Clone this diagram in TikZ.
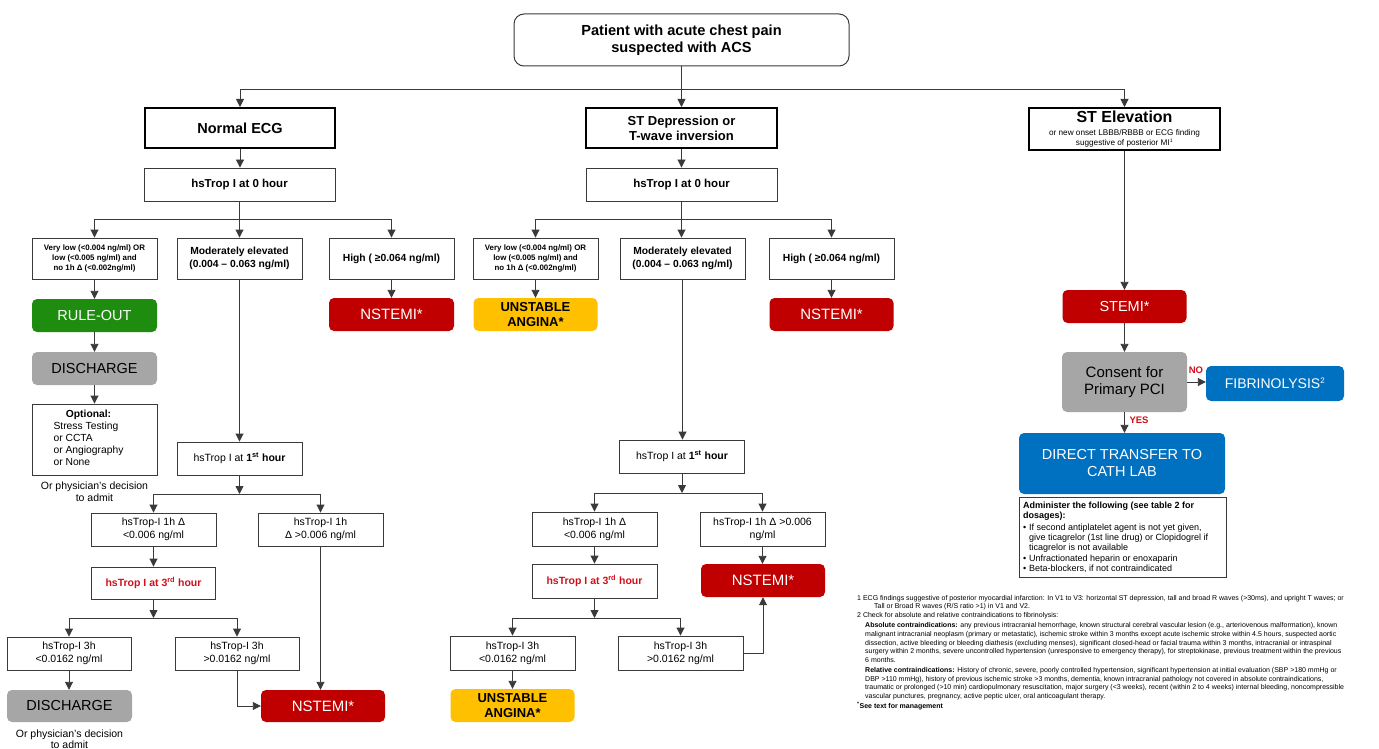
\documentclass[tikz,border=0pt]{standalone}
\usepackage{fontspec}
\setmainfont{Liberation Sans}
\usetikzlibrary{arrows.meta}
\definecolor{gline}{HTML}{3A3A3A}
\definecolor{cgreen}{HTML}{1E8C0E}
\definecolor{cred}{HTML}{C00000}
\definecolor{cgray}{HTML}{A6A6A6}
\definecolor{cyel}{HTML}{FFC000}
\definecolor{cblue}{HTML}{0070C0}
\definecolor{tred}{HTML}{D0101A}
\newcommand\fsz[2]{\fontsize{#1}{#2}\selectfont}
\tikzset{
  wh/.style 2 args={minimum width=#1pt, minimum height=#2pt},
  box/.style={draw=gline, line width=0.9pt, fill=white, inner sep=0pt, align=center, text=black},
  heavy/.style={draw=black, line width=2pt, fill=white, inner sep=0pt, align=center},
  topbox/.style={draw=gline, line width=1pt, rounded corners=10pt, inner sep=0pt, align=center},
  cbox/.style={rounded corners=5pt, inner sep=0pt, align=center},
  grn/.style={cbox, fill=cgreen, text=white, font=\fsz{14.5}{16}},
  rd/.style={cbox, fill=cred, text=white, font=\fsz{15}{17}},
  gry/.style={cbox, fill=cgray, text=black},
  yel/.style={cbox, fill=cyel, text=black, font=\fsz{13}{15}\bfseries},
  blu/.style={cbox, fill=cblue, text=white},
  arr/.style={-{Triangle[length=8pt,width=8pt]}, line width=0.9pt, draw=gline},
  ln/.style={line width=0.9pt, draw=gline},
  lbl/.style={text=tred, font=\fsz{9.5}{11}\bfseries, inner sep=0pt},
  plain/.style={inner sep=0pt, align=center, font=\fsz{10.5}{11.5}},
  tiny/.style={font=\fsz{7.9}{10}\bfseries},
  medb/.style={font=\fsz{10.3}{13}\bfseries},
  med/.style={font=\fsz{10.5}{13}},
  redb/.style={font=\fsz{10.5}{12}\bfseries, text=tred},
}
\begin{document}
\begin{tikzpicture}[x=1pt,y=-1pt]
\useasboundingbox (0,0) rectangle (1379,749);
\fill[white] (0,0) rectangle (1379,749);

% ---------- top ----------
\node[topbox, wh={335}{52}, font=\fsz{14.6}{17}\bfseries] (top) at (681.5,40) {Patient with acute chest pain\\suspected with ACS};
\node[heavy, wh={190}{40}, font=\fsz{14.5}{17}\bfseries] (ecgN) at (240,128) {Normal ECG};
\node[heavy, wh={191}{40}, font=\fsz{13}{15}\bfseries] (ecgD) at (681.5,128) {ST Depression or\\T-wave inversion};
\node[heavy, wh={191}{42}, font=\fsz{8.2}{10}] (ecgE) at (1124.5,129) {{\fsz{16}{16}\bfseries ST Elevation}\\[2.5pt]or new onset LBBB/RBBB or ECG finding\\suggestive of posterior MI\textsuperscript{\fsz{5}{5}1}};

\coordinate (j0) at (681.5,89);
\draw[ln] (top.south) -- (j0);
\draw[arr] (j0) -| (ecgN.north);
\draw[arr] (j0) -| (ecgE.north);
\draw[arr] (j0) -- (ecgD.north);

% ---------- left column ----------
\node[box, wh={191}{33}, font=\fsz{11.5}{13}\bfseries] (t0L) at (239.5,184.5) {hsTrop I at 0 hour};
\draw[arr] (ecgN.south) -- (ecgN.south |- t0L.north);

\node[box, tiny, wh={125}{41}] (vlL) at (94.5,258.5) {Very low (<0.004 ng/ml) OR\\low (<0.005 ng/ml) and\\no 1h Δ (<0.002ng/ml)};
\node[box, medb, wh={125}{41}] (modL) at (239.5,258.5) {Moderately elevated\\(0.004 – 0.063 ng/ml)};
\node[box, medb, wh={125}{41}] (hiL) at (391.5,258.5) {High ( ≥0.064 ng/ml)};
\coordinate (jL0) at (239.5,219);
\draw[ln] (t0L.south) -- (jL0);
\draw[arr] (jL0) -| (vlL.north);
\draw[arr] (jL0) -| (hiL.north);
\draw[arr] (jL0) -- (modL.north);

\node[grn, wh={125}{33}] (ruleout) at (94.5,315.5) {RULE-OUT};
\node[rd, wh={125}{33}] (nstL1) at (391.5,314.5) {NSTEMI*};
\draw[arr] (vlL.south) -- (ruleout.north);
\draw[arr] (hiL.south) -- (nstL1.north);

\node[gry, wh={125}{33}, font=\fsz{14.5}{16}] (disL) at (94.5,368.5) {DISCHARGE};
\draw[arr] (ruleout.south) -- (disL.north);
\node[box, wh={125}{71}, font=\fsz{10.3}{12}] (optL) at (94.5,439.5) {\begin{tabular}{@{}l@{}}\multicolumn{1}{c}{\bfseries Optional:}\\Stress Testing\\or CCTA\\or Angiography\\or None\end{tabular}\hspace*{12pt}};
\draw[arr] (disL.south) -- (optL.north);
\node[plain] (physL) at (94.5,491.5) {Or physician's decision\\to admit};

\node[box, wh={125}{33}, font=\fsz{10.5}{12}] (t1L) at (239.5,458.5) {hsTrop I at \textbf{1\textsuperscript{st} hour}};
\draw[arr] (modL.south) -- (modL.south |- t1L.north);
\coordinate (jL1) at (239.5,494);
\node[box, med, wh={125}{33}] (d1aL) at (153.5,529.5) {hsTrop-I 1h Δ\\<0.006 ng/ml};
\node[box, med, wh={125}{33}] (d1bL) at (320.5,529.5) {hsTrop-I 1h\\Δ >0.006 ng/ml};
\draw[arr] (t1L.south) -- (jL1);
\draw[arr] (jL1) -| (d1aL.north);
\draw[arr] (jL1) -| (d1bL.north);

\node[box, redb, wh={124}{32}] (t3L) at (153.5,583) {hsTrop I at 3\textsuperscript{rd} hour};
\draw[arr] (d1aL.south) -- (t3L.north);
\coordinate (jL3) at (153.5,618);
\node[box, med, wh={124}{33}] (d3aL) at (69,653.5) {hsTrop-I 3h\\<0.0162 ng/ml};
\node[box, med, wh={124}{33}] (d3bL) at (237,653.5) {hsTrop-I 3h\\>0.0162 ng/ml};
\draw[arr] (t3L.south) -- (jL3);
\draw[arr] (jL3) -| (d3aL.north);
\draw[arr] (jL3) -| (d3bL.north);

\node[gry, wh={125}{32}, font=\fsz{14.5}{16}] (disL2) at (69.5,706) {DISCHARGE};
\draw[arr] (d3aL.south) -- (d3aL.south |- disL2.north);
\node[plain] (physL2) at (69.5,739) {Or physician's decision\\to admit};
\node[rd, wh={124}{32}] (nstL2) at (323,706) {NSTEMI*};
\draw[arr] (d3bL.south) |- (nstL2.west);
\draw[arr] (d1bL.south) -- (d1bL.south |- nstL2.north);

% ---------- middle column ----------
\node[box, wh={191}{33}, font=\fsz{11.5}{13}\bfseries] (t0M) at (681.5,184.5) {hsTrop I at 0 hour};
\draw[arr] (ecgD.south) -- (t0M.north);
\node[box, tiny, wh={125}{41}] (vlM) at (535.5,258.5) {Very low (<0.004 ng/ml) OR\\low (<0.005 ng/ml) and\\no 1h Δ (<0.002ng/ml)};
\node[box, medb, wh={125}{41}] (modM) at (682.5,258.5) {Moderately elevated\\(0.004 – 0.063 ng/ml)};
\node[box, medb, wh={125}{41}] (hiM) at (831.5,258.5) {High ( ≥0.064 ng/ml)};
\coordinate (jM0) at (681.5,219);
\draw[ln] (t0M.south) -- (jM0);
\draw[arr] (jM0) -| (vlM.north);
\draw[arr] (jM0) -| (hiM.north);
\draw[arr] (jM0) -- (jM0 |- modM.north);

\node[yel, wh={124}{33}] (uaM1) at (535.5,314.5) {UNSTABLE\\ANGINA*};
\node[rd, wh={124}{33}] (nstM1) at (831.5,314.5) {NSTEMI*};
\draw[arr] (vlM.south) -- (uaM1.north);
\draw[arr] (hiM.south) -- (nstM1.north);

\node[box, wh={125}{33}, font=\fsz{10.5}{12}] (t1M) at (682,456.5) {hsTrop I at \textbf{1\textsuperscript{st} hour}};
\draw[arr] (modM.south) -- (modM.south |- t1M.north);
\coordinate (jM1) at (682,493);
\node[box, med, wh={125}{34}] (d1aM) at (594.5,529) {hsTrop-I 1h Δ\\<0.006 ng/ml};
\node[box, med, wh={125}{34}] (d1bM) at (762.5,529) {hsTrop-I 1h Δ >0.006\\ng/ml};
\draw[arr] (t1M.south) -- (jM1);
\draw[arr] (jM1) -| (d1aM.north);
\draw[arr] (jM1) -| (d1bM.north);

\node[box, redb, wh={125}{34}] (t3M) at (594.5,581) {hsTrop I at 3\textsuperscript{rd} hour};
\draw[arr] (d1aM.south) -- (t3M.north);
\node[rd, wh={124}{33}] (nstM2) at (763,580.5) {NSTEMI*};
\draw[arr] (d1bM.south) -- (d1bM.south |- nstM2.north);
\coordinate (jM3) at (594.5,618);
\node[box, med, wh={125}{34}] (d3aM) at (512.5,653) {hsTrop-I 3h\\<0.0162 ng/ml};
\node[box, med, wh={125}{34}] (d3bM) at (680.5,653) {hsTrop-I 3h\\>0.0162 ng/ml};
\draw[arr] (t3M.south) -- (jM3);
\draw[arr] (jM3) -| (d3aM.north);
\draw[arr] (jM3) -| (d3bM.north);
\node[yel, wh={124}{33}] (uaM2) at (512.5,705.5) {UNSTABLE\\ANGINA*};
\draw[arr] (d3aM.south) -- (uaM2.north);
\draw[arr] (d3bM.east) -| (nstM2.south);

% ---------- right column ----------
\node[rd, wh={124}{33}, font=\fsz{14.5}{16}] (stemi) at (1124.5,306.5) {STEMI*};
\draw[arr] (ecgE.south) -- (stemi.north);
\node[gry, wh={125}{60}, font=\fsz{15}{17}] (consent) at (1124.5,382) {Consent for\\Primary PCI};
\draw[arr] (stemi.south) -- (consent.north);
\node[blu, wh={138}{35}, font=\fsz{14}{16}] (fib) at (1275,383.5) {FIBRINOLYSIS\textsuperscript{\fsz{8}{8}2}};
\draw[arr] (consent.east) -- (fib.west |- consent.east);
\node[lbl] (no) at (1196,370) {NO};
\node[blu, wh={206}{61}, font=\fsz{14.5}{17}] (direct) at (1122,463.5) {DIRECT TRANSFER TO\\CATH LAB};
\draw[arr] (consent.south) -- (consent.south |- direct.north);
\node[lbl] (yes) at (1139,420) {YES};
\node[box, wh={207}{80}, anchor=north, font=\fsz{9}{10.2}] (admin) at (1122.5,497) {\begin{minipage}[c]{199pt}\raggedright
\textbf{Administer the following (see table 2 for}\\
\textbf{dosages):}\\[1.5pt]
\makebox[6pt][l]{•}If second antiplatelet agent is not yet given,\\
\hspace*{6pt}give ticagrelor (1st line drug) or Clopidogrel if\\
\hspace*{6pt}ticagrelor is not available\\[0.5pt]
\makebox[6pt][l]{•}Unfractionated heparin or enoxaparin\\[0.5pt]
\makebox[6pt][l]{•}Beta-blockers, if not contraindicated
\end{minipage}};

% ---------- footnotes ----------
\node[inner sep=0pt, align=left, anchor=north west, font=\fsz{7}{8.7}] (notes) at (857,595) {%
1 ECG findings suggestive of posterior myocardial infarction: In V1 to V3: horizontal ST depression, tall and broad R waves (>30ms), and upright T waves; or\\
\hspace*{17pt}Tall or Broad R waves (R/S ratio >1) in V1 and V2.\\
2 Check for absolute and relative contraindications to fibrinolysis:\\[1.3pt]
\hspace*{8pt}\textbf{Absolute contraindications:} any previous intracranial hemorrhage, known structural cerebral vascular lesion (e.g., arteriovenous malformation), known\\
\hspace*{8pt}malignant intracranial neoplasm (primary or metastatic), ischemic stroke within 3 months except acute ischemic stroke within 4.5 hours, suspected aortic\\
\hspace*{8pt}dissection, active bleeding or bleeding diathesis (excluding menses), significant closed-head or facial trauma within 3 months, intracranial or intraspinal\\
\hspace*{8pt}surgery within 2 months, severe uncontrolled hypertension (unresponsive to emergency therapy), for streptokinase, previous treatment within the previous\\
\hspace*{8pt}6 months.\\[1.3pt]
\hspace*{8pt}\textbf{Relative contraindications:} History of chronic, severe, poorly controlled hypertension, significant hypertension at initial evaluation (SBP >180 mmHg or\\
\hspace*{8pt}DBP >110 mmHg), history of previous ischemic stroke >3 months, dementia, known intracranial pathology not covered in absolute contraindications,\\
\hspace*{8pt}traumatic or prolonged (>10 min) cardiopulmonary resuscitation, major surgery (<3 weeks), recent (within 2 to 4 weeks) internal bleeding, noncompressible\\
\hspace*{8pt}vascular punctures, pregnancy, active peptic ulcer, oral anticoagulant therapy.\\[1.3pt]
\textbf{\textsuperscript{*}See text for management}};
\end{tikzpicture}
\end{document}
